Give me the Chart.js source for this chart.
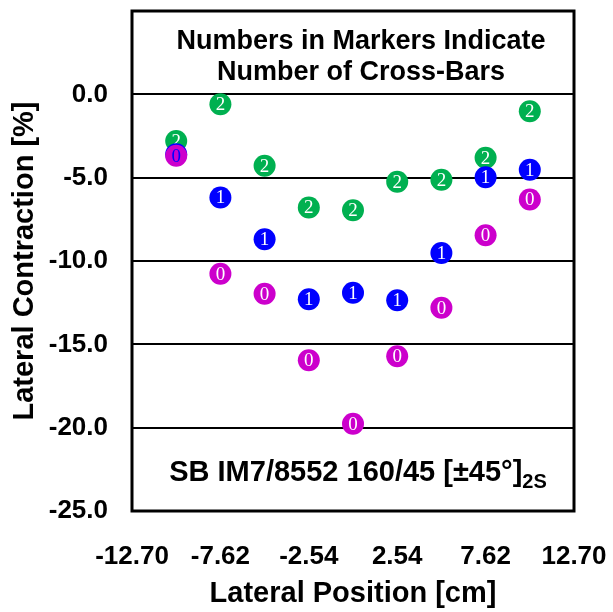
<!DOCTYPE html>
<html>
<head>
<meta charset="utf-8">
<script src="https://cdn.jsdelivr.net/npm/chart.js@4"></script>
<style>
html,body{margin:0;padding:0;background:#fff;}
#wrap{width:613px;height:612px;}
</style>
</head>
<body>
<div id="wrap"><canvas id="c" width="613" height="612"></canvas></div>
<script>
const positions = [-10.16, -7.62, -5.08, -2.54, 0, 2.54, 5.08, 7.62, 10.16];
const twoBars  = [-2.80, -0.60, -4.29, -6.79, -6.96, -5.24, -5.12, -3.81, -1.01];
const oneBar   = [-3.60, -6.19, -8.69, -12.30, -11.90, -12.35, -9.52, -4.97, -4.52];
const zeroBars = [-3.69, -10.77, -11.96, -15.95, -19.76, -15.71, -12.80, -8.45, -6.31];
const xTickValues = [-12.70, -7.62, -2.54, 2.54, 7.62, 12.70];
const yTickValues = [-25, -20, -15, -10, -5, 0, 5];
const noteLines = ['Numbers in Markers Indicate', 'Number of Cross-Bars'];
const specText = 'SB IM7/8552 160/45 [\u00B145\u00B0]';
const specSub = '2S';

const FONT = '"Liberation Sans", Arial, sans-serif';

function pts(ys){ return positions.map((x,i)=>({x:x, y:ys[i]})); }
function zeroPad(s){ s.paddingLeft = 0; s.paddingRight = 0; s.paddingTop = 0; s.paddingBottom = 0; }

const markerLabels = {
  id:'markerLabels',
  afterDatasetDraw(chart, args){
    const ds = chart.data.datasets[args.index];
    const meta = args.meta;
    const ctx = chart.ctx;
    ctx.save();
    ctx.font = '19px "Liberation Serif", "Times New Roman", serif';
    ctx.textAlign = 'center';
    ctx.textBaseline = 'middle';
    meta.data.forEach((el,i)=>{
      ctx.fillStyle = (ds.labelColors && ds.labelColors[i]) || '#ffffff';
      ctx.fillText(ds.markLabel, el.x, el.y + 1);
    });
    ctx.restore();
  }
};

const frameAndNotes = {
  id:'frameAndNotes',
  afterDraw(chart){
    const ctx = chart.ctx;
    const a = chart.chartArea;
    ctx.save();
    ctx.strokeStyle = '#000';
    ctx.lineWidth = 3;
    ctx.strokeRect(a.left, a.top, a.right - a.left, a.bottom - a.top);
    ctx.fillStyle = '#000';
    ctx.textAlign = 'center';
    ctx.textBaseline = 'alphabetic';
    ctx.font = 'bold 27px ' + FONT;
    const cx = (a.left + a.right) / 2 + 8;
    ctx.fillText(noteLines[0], cx, a.top + 38);
    ctx.fillText(noteLines[1], cx, a.top + 69);
    ctx.font = 'bold 29px ' + FONT;
    const w1 = ctx.measureText(specText).width;
    ctx.font = 'bold 20px ' + FONT;
    const w2 = ctx.measureText(specSub).width;
    const total = w1 + w2;
    const sx = (a.left + a.right) / 2 + 5 - total / 2;
    ctx.textAlign = 'left';
    ctx.font = 'bold 29px ' + FONT;
    ctx.fillText(specText, sx, a.top + 470);
    ctx.font = 'bold 20px ' + FONT;
    ctx.fillText(specSub, sx + w1, a.top + 477);
    ctx.restore();
  }
};

new Chart(document.getElementById('c'), {
  type:'scatter',
  data:{
    datasets:[
      {label:'0 cross-bars', data:pts(zeroBars), backgroundColor:'#CC00CC', markLabel:'0',
       labelColors:['#0000FF'], pointRadius:11, pointHoverRadius:11, borderWidth:0},
      {label:'1 cross-bar', data:pts(oneBar), backgroundColor:'#0000FF', markLabel:'1',
       pointRadius:11, pointHoverRadius:11, borderWidth:0},
      {label:'2 cross-bars', data:pts(twoBars), backgroundColor:'#00B050', markLabel:'2',
       pointRadius:11, pointHoverRadius:11, borderWidth:0}
    ]
  },
  options:{
    responsive:false,
    animation:false,
    events:[],
    layout:{padding:{left:0, right:39, top:7, bottom:0}},
    plugins:{legend:{display:false}, tooltip:{enabled:false}},
    scales:{
      x:{
        type:'linear', min:-12.7, max:12.7,
        afterBuildTicks(s){ s.ticks = xTickValues.map(v=>({value:v})); },
        afterFit(s){ s.height = 101; zeroPad(s); },
        grid:{display:false, drawTicks:false},
        border:{display:false},
        ticks:{autoSkip:false, maxRotation:0, padding:30, color:'#000',
          font:{family:FONT, size:26, weight:'bold'},
          callback:(v)=>Number(v).toFixed(2)},
        title:{display:true, text:'Lateral Position [cm]', color:'#000',
          font:{family:FONT, size:29, weight:'bold'}, padding:{top:0, bottom:1}}
      },
      y:{
        type:'linear', min:-25, max:5,
        afterBuildTicks(s){ s.ticks = yTickValues.map(v=>({value:v})); },
        afterFit(s){ s.width = 132; zeroPad(s); },
        grid:{drawTicks:false, lineWidth:2,
          color:(c)=> (c.tick && (c.tick.value === -25 || c.tick.value === 5)) ? 'rgba(0,0,0,0)' : '#000'},
        border:{display:false},
        ticks:{autoSkip:false, padding:24, color:'#000',
          font:{family:FONT, size:26, weight:'bold'},
          callback:(v)=> v === 5 ? '' : Number(v).toFixed(1)},
        title:{display:true, text:'Lateral Contraction [%]', color:'#000',
          font:{family:FONT, size:29, weight:'bold'}, padding:{top:8, bottom:0}}
      }
    }
  },
  plugins:[markerLabels, frameAndNotes]
});
</script>
</body>
</html>
